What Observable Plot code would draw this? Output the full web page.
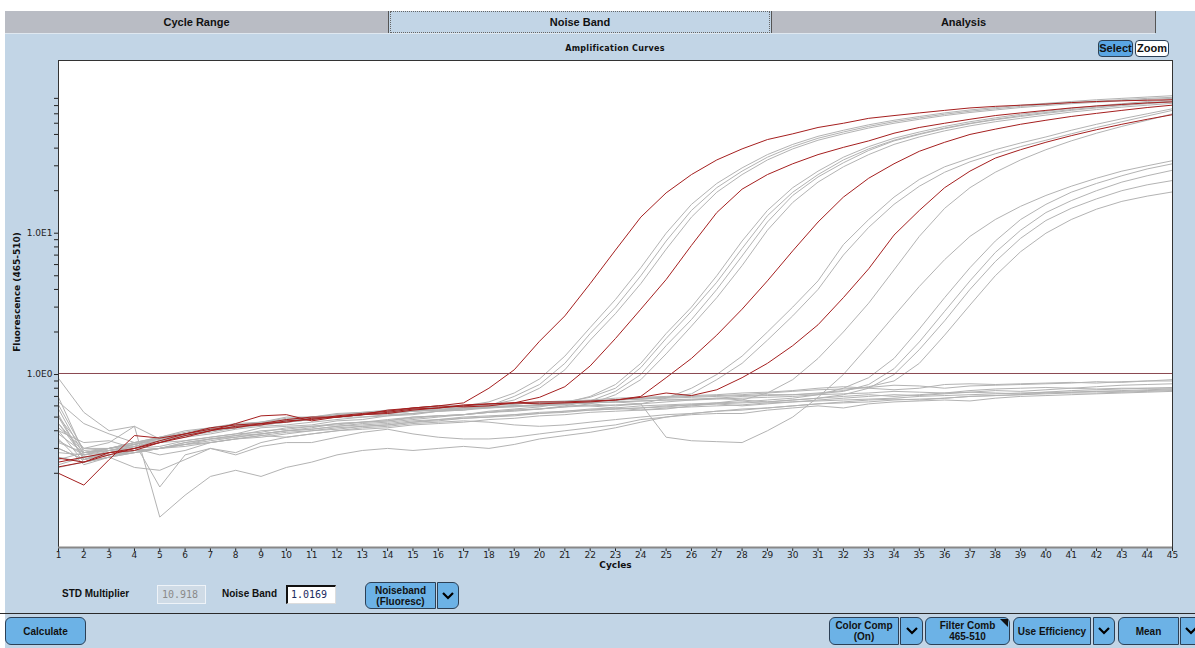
<!DOCTYPE html>
<html>
<head>
<meta charset="utf-8">
<script src="https://cdn.jsdelivr.net/npm/d3@7"></script>
<script src="https://cdn.jsdelivr.net/npm/@observablehq/plot@0.6"></script>
<style>
  html, body { margin:0; padding:0; }
  body { width:1195px; height:648px; position:relative; overflow:hidden; background:#fff; font-family:"Liberation Sans", "DejaVu Sans", sans-serif; }
  #bg { position:absolute; left:5px; top:11px; width:1190px; height:637px; background:#c2d5e6; }
  .tab { position:absolute; top:11px; height:22px; line-height:22px; text-align:center; font-weight:bold; font-size:11px; color:#111; background:#b9bcc4; box-sizing:border-box; }
  .tabsel { background:#c2d5e6; border:1px dotted #666; line-height:20px; }
  .tabline { position:absolute; top:33px; left:5px; width:1150px; height:1px; background:#dfe8f0; }
  .vsep { position:absolute; top:11px; width:1px; height:22px; background:#555; }
  #title { position:absolute; top:44px; left:515px; width:200px; text-align:center; font:bold 8px "DejaVu Sans", sans-serif; letter-spacing:0.3px; color:#111; }
  .btn { position:absolute; box-sizing:border-box; background:#6cb2e6; border:1px solid #2c4056; border-radius:6px; font-weight:bold; font-size:10px; color:#111; text-align:center; display:flex; align-items:center; justify-content:center; line-height:11px; }
  .lbl { position:absolute; font-weight:bold; font-size:10px; color:#111; }
  .inp { position:absolute; box-sizing:border-box; height:19px; font:10px "DejaVu Sans Mono", monospace; padding:3px 4px; }
  #plot { position:absolute; left:0; top:40px; }
  #hline { position:absolute; left:0; top:613px; width:1195px; height:1px; background:#2a2a2a; }
</style>
</head>
<body>
<div id="bg"></div>
<div class="tab" style="left:5px;width:383px;">Cycle Range</div>
<div class="tab tabsel" style="left:390px;width:380px;">Noise Band</div>
<div class="tab" style="left:772px;width:383px;">Analysis</div>
<div class="vsep" style="left:388px"></div>
<div class="vsep" style="left:771px"></div>
<div class="vsep" style="left:1155px"></div>
<div class="tabline"></div>
<div id="title">Amplification Curves</div>
<div class="btn" style="left:1098px;top:40px;width:35px;height:17px;border-radius:4px;background:#5aa6e4;font-size:11px;">Select</div>
<div class="btn" style="left:1135px;top:40px;width:34px;height:17px;border-radius:4px;background:#fff;font-size:11px;">Zoom</div>

<div id="plot"></div>

<div class="lbl" style="left:62px;top:588px;">STD Multiplier</div>
<div class="inp" style="left:157px;top:585px;width:49px;background:#cfdbe6;border:1px solid #eef3f8;color:#8a8a8a;">10.918</div>
<div class="lbl" style="left:222px;top:588px;">Noise Band</div>
<div class="inp" style="left:286px;top:585px;width:50px;background:#fff;border-top:2px solid #111;border-left:2px solid #111;border-right:1px solid #ddd;border-bottom:1px solid #ddd;color:#1a2a60;padding:2px 3px;">1.0169</div>
<div class="btn" style="left:365px;top:582px;width:71px;height:27px;border-radius:6px 0 0 6px;">Noiseband<br>(Fluoresc)</div>
<div class="btn" style="left:437px;top:582px;width:22px;height:27px;border-radius:0 6px 6px 0;"><svg width="14" height="10"><path d="M2 2 L7 7 L12 2" stroke="#000" stroke-width="2.2" fill="none"/></svg></div>

<div id="hline"></div>
<div class="btn" style="left:5px;top:617px;width:81px;height:28px;">Calculate</div>
<div class="btn" style="left:829px;top:617px;width:70px;height:28px;border-radius:6px 0 0 6px;">Color Comp<br>(On)</div>
<div class="btn" style="left:900px;top:617px;width:23px;height:28px;border-radius:0 6px 6px 0;"><svg width="14" height="10"><path d="M2 2 L7 7 L12 2" stroke="#000" stroke-width="2.2" fill="none"/></svg></div>
<div class="btn" style="left:925px;top:617px;width:85px;height:28px;">Filter Comb<br>465-510<svg style="position:absolute;right:1px;top:1px" width="8" height="8"><path d="M0 0 L8 0 L8 8 Z" fill="#111"/></svg></div>
<div class="btn" style="left:1013px;top:617px;width:78px;height:28px;border-radius:6px 0 0 6px;">Use Efficiency</div>
<div class="btn" style="left:1093px;top:617px;width:22px;height:28px;border-radius:0 6px 6px 0;"><svg width="14" height="10"><path d="M2 2 L7 7 L12 2" stroke="#000" stroke-width="2.2" fill="none"/></svg></div>
<div class="btn" style="left:1118px;top:617px;width:61px;height:28px;border-radius:6px 0 0 6px;">Mean</div>
<div class="btn" style="left:1180px;top:617px;width:22px;height:28px;border-radius:0 6px 6px 0;justify-content:flex-start;padding-left:3px;"><svg width="14" height="10"><path d="M2 2 L7 7 L12 2" stroke="#000" stroke-width="2.2" fill="none"/></svg></div>

<script>
// ---- data ----
const cycles = [1,2,3,4,5,6,7,8,9,10,11,12,13,14,15,16,17,18,19,20,21,22,23,24,25,26,27,28,29,30,31,32,33,34,35,36,37,38,39,40,41,42,43,44,45];
const xTicks = cycles;
const yMajorTicks = [1, 10];
const yMajorLabels = ["1.0E0", "1.0E1"];
const yMinorTicks = [0.2,0.3,0.4,0.5,0.6,0.7,0.8,0.9,2,3,4,5,6,7,8,9,20,30,40,50,60,70,80,90];
const yDomain = [0.0597, 166.8];
const noiseBand = 1.0169;

// red (highlighted) samples
const R1 = [0.256,0.24,0.28,0.29,0.33,0.36,0.4,0.43,0.44,0.47, 0.48,0.51,0.53,0.55,0.58,0.6,0.63,0.8,1.08,1.72, 2.6,4.4,7.6,13,19.3,26,33,39.5,46,50.5, 56,60,65,68,71,74,77,79,80.5,82, 84,85.5,86.5,87.3,88];
const R2 = [0.2,0.165,0.25,0.37,0.355,0.38,0.42,0.44,0.45,0.48, 0.5,0.5,0.52,0.56,0.58,0.6,0.59,0.6,0.63,0.69, 0.82,1.15,1.8,2.9,4.7,8.2,14,20.5,26,31, 36,40.5,45,51,56,60,64,68,71,74, 77,79.5,81.5,83.5,85];
const R3 = [0.222,0.24,0.27,0.3,0.33,0.37,0.4,0.45,0.51,0.52, 0.47,0.5,0.52,0.53,0.56,0.58,0.6,0.62,0.63,0.62, 0.63,0.64,0.66,0.7,0.95,1.3,1.9,2.9,4.6,7.5, 12,18,24.5,31,38,44,50,54.5,59,63, 67,70.5,74,77.5,80.6];
const R4 = [0.24,0.26,0.28,0.3,0.34,0.38,0.41,0.42,0.45,0.46, 0.49,0.5,0.52,0.54,0.57,0.58,0.61,0.62,0.63,0.64, 0.64,0.65,0.66,0.69,0.74,0.71,0.78,0.95,1.2,1.6, 2.25,3.5,5.6,9.7,14.5,21,27.5,34,39,44, 49,54,59,64,69];

// grey samples
const A1 = [0.57,0.27,0.29,0.31,0.33,0.38,0.41,0.43,0.44,0.48, 0.49,0.5,0.53,0.55,0.57,0.58,0.6,0.64,0.74,0.93, 1.35,2.15,3.4,5.7,10,16,22.5,29,36,42.5, 48.5,53.5,58.5,63,67,71,74.5,77.5,80.5,83, 85.5,88,90,92,94];
const A2 = [0.5,0.25,0.28,0.3,0.31,0.34,0.36,0.38,0.42,0.43, 0.44,0.47,0.48,0.51,0.52,0.55,0.56,0.6,0.7,0.85, 1.2,1.95,3.0,5.0,8.8,14.5,21,27.5,34.5,41, 47,52,57,61.5,65.5,69.5,73,76,79,81.5, 84,86,88,90,91.6];
const A3 = [0.61,0.29,0.3,0.33,0.36,0.4,0.42,0.45,0.46,0.5, 0.5,0.53,0.54,0.55,0.58,0.6,0.6,0.61,0.66,0.8, 1.08,1.75,2.7,4.4,7.7,13,19.5,26,33,39.5, 45.5,50.5,55.5,60,64,68,71.5,74.5,77.5,80, 82.5,84.5,86.5,88.5,90];
const B1 = [0.4,0.24,0.26,0.29,0.3,0.32,0.34,0.36,0.38,0.4, 0.41,0.43,0.45,0.46,0.48,0.5,0.52,0.55,0.57,0.59, 0.63,0.7,0.85,1.2,1.95,3.0,5.0,8.8,14.5,21, 27.5,34.5,41,47,52,57,61.5,65.5,69.5,73, 76.5,79.5,82.5,85.5,88];
const B2 = [0.45,0.28,0.29,0.32,0.36,0.38,0.41,0.44,0.45,0.47, 0.5,0.51,0.52,0.55,0.57,0.58,0.6,0.6,0.62,0.63, 0.64,0.69,0.8,1.12,1.8,2.8,4.5,7.8,13.3,19.5, 26,33,39.5,45.5,50.5,55.5,60,64,68,71.5, 75,78,81,84,86];
const B3 = [0.3,0.25,0.27,0.29,0.3,0.33,0.35,0.37,0.4,0.41, 0.43,0.44,0.46,0.47,0.49,0.51,0.52,0.54,0.56,0.57, 0.6,0.65,0.76,1.0,1.6,2.45,4.0,6.9,12,18.5, 25,31.5,38.5,45,50,55,59.5,63.5,67,70.5, 74,77,80,82.5,85];
const B4 = [0.35,0.23,0.26,0.28,0.3,0.32,0.35,0.36,0.38,0.4, 0.42,0.45,0.46,0.47,0.5,0.51,0.52,0.54,0.55,0.57, 0.59,0.62,0.72,0.92,1.4,2.2,3.5,5.9,10.5,16.5, 23,29.5,36,42.5,48,53,57.5,61.5,65,68.5, 72,75,78,80.5,83];
const C1 = [0.28,0.27,0.28,0.3,0.33,0.34,0.36,0.38,0.39,0.42, 0.43,0.45,0.46,0.48,0.5,0.51,0.52,0.54,0.56,0.57, 0.59,0.6,0.61,0.62,0.68,0.8,1.0,1.35,2.0,3.0, 4.6,8.3,12.5,18,24,29.5,34,39,43.5,48, 53.5,59,64.5,70,76];
const C2 = [0.33,0.28,0.3,0.33,0.35,0.38,0.41,0.42,0.45,0.47, 0.49,0.5,0.53,0.55,0.56,0.58,0.6,0.61,0.62,0.63, 0.64,0.65,0.66,0.67,0.69,0.73,0.92,1.2,1.75,2.6, 4.0,7.0,11,16,21.5,27,32,36.5,41,45.5, 50.5,56,61.5,67.5,74];
const D1 = [0.26,0.24,0.26,0.28,0.3,0.32,0.33,0.35,0.36,0.38, 0.4,0.42,0.43,0.44,0.46,0.48,0.49,0.5,0.52,0.53, 0.55,0.56,0.57,0.58,0.6,0.61,0.63,0.66,0.74,0.92, 1.3,2.0,3.2,5.5,9.5,15,21,27,33,39, 45,51,57,63,70];
const D2 = [0.42,0.3,0.3,0.32,0.34,0.37,0.4,0.42,0.44,0.46, 0.48,0.5,0.52,0.53,0.55,0.57,0.58,0.59,0.6,0.61, 0.62,0.63,0.64,0.62,0.36,0.34,0.335,0.33,0.4,0.5, 0.69,1.0,1.6,2.6,4.2,6.5,9.5,12.5,15.5,18.5, 21.5,24.5,27.5,30,32.6];
const E2 = [0.23,0.26,0.27,0.29,0.3,0.33,0.35,0.37,0.38,0.4, 0.41,0.43,0.44,0.45,0.47,0.48,0.5,0.51,0.52,0.54, 0.55,0.57,0.58,0.6,0.61,0.62,0.63,0.64,0.66,0.68, 0.72,0.8,0.95,1.3,2.1,3.5,5.7,8.8,12.5,16, 19.5,22.5,25.5,28.5,31];
const E3 = [0.25,0.28,0.3,0.33,0.36,0.39,0.42,0.44,0.46,0.49, 0.5,0.52,0.54,0.56,0.57,0.59,0.6,0.61,0.62,0.63, 0.64,0.65,0.66,0.67,0.68,0.69,0.7,0.71,0.72,0.72, 0.73,0.76,0.85,1.1,1.7,2.8,4.6,7.3,10.5,14, 17,20,23,25.5,27.9];
const E4 = [0.3,0.25,0.27,0.28,0.3,0.31,0.33,0.35,0.37,0.39, 0.4,0.41,0.43,0.44,0.46,0.47,0.49,0.5,0.51,0.53, 0.54,0.56,0.57,0.58,0.59,0.61,0.62,0.63,0.64,0.66, 0.68,0.72,0.8,1.0,1.5,2.4,4.0,6.3,9.2,12.3, 15,17.5,20,22,23.6];
const E5 = [0.38,0.28,0.3,0.32,0.35,0.38,0.41,0.43,0.45,0.47, 0.49,0.5,0.52,0.53,0.55,0.56,0.58,0.59,0.6,0.61, 0.62,0.63,0.64,0.65,0.66,0.67,0.68,0.7,0.71,0.72, 0.74,0.77,0.82,0.9,1.2,1.9,3.1,5.0,7.4,10, 12.5,14.8,16.8,18.3,19.6];
const N1 = [0.94,0.54,0.4,0.43,0.35,0.38,0.4,0.43,0.44,0.46, 0.48,0.5,0.5,0.52,0.53,0.55,0.57,0.58,0.6,0.6, 0.62,0.63,0.64,0.65,0.66,0.66,0.67,0.68,0.69,0.7, 0.72,0.73,0.74,0.76,0.75,0.74,0.77,0.79,0.8,0.81, 0.8,0.82,0.84,0.85,0.86];
const N2 = [0.5,0.3,0.33,0.43,0.098,0.14,0.19,0.21,0.19,0.22, 0.24,0.27,0.29,0.3,0.29,0.3,0.31,0.3,0.32,0.35, 0.37,0.39,0.42,0.46,0.5,0.53,0.55,0.57,0.58,0.6, 0.62,0.63,0.64,0.66,0.67,0.68,0.7,0.71,0.72,0.73, 0.74,0.74,0.75,0.76,0.77];
const N3 = [0.64,0.45,0.38,0.33,0.16,0.27,0.3,0.28,0.33,0.36, 0.38,0.4,0.42,0.43,0.45,0.46,0.47,0.46,0.44,0.43, 0.44,0.46,0.48,0.5,0.52,0.53,0.55,0.56,0.58,0.6, 0.62,0.64,0.66,0.67,0.66,0.68,0.7,0.71,0.72,0.74, 0.75,0.76,0.76,0.77,0.78];
const N4 = [0.69,0.28,0.29,0.3,0.33,0.37,0.4,0.42,0.45,0.47, 0.49,0.5,0.52,0.54,0.56,0.58,0.59,0.61,0.62,0.64, 0.65,0.66,0.68,0.69,0.7,0.71,0.72,0.74,0.75,0.77, 0.8,0.82,0.8,0.78,0.8,0.85,0.86,0.85,0.86,0.87, 0.88,0.87,0.89,0.9,0.9];
const N5 = [0.45,0.26,0.28,0.31,0.34,0.36,0.38,0.41,0.43,0.44, 0.46,0.48,0.5,0.51,0.53,0.55,0.56,0.58,0.59,0.61, 0.62,0.64,0.66,0.68,0.69,0.7,0.71,0.72,0.74,0.76, 0.78,0.79,0.81,0.84,0.83,0.8,0.83,0.84,0.85,0.86, 0.87,0.89,0.88,0.9,0.92];
const N6 = [0.22,0.24,0.26,0.22,0.21,0.25,0.3,0.27,0.31,0.33, 0.33,0.36,0.39,0.41,0.38,0.36,0.35,0.35,0.36,0.38, 0.4,0.42,0.44,0.48,0.5,0.52,0.53,0.53,0.56,0.58, 0.6,0.58,0.62,0.64,0.65,0.66,0.65,0.68,0.7,0.71, 0.72,0.73,0.74,0.75,0.76];
const N7 = [0.34,0.27,0.3,0.32,0.35,0.38,0.41,0.43,0.46,0.48, 0.5,0.52,0.53,0.55,0.57,0.58,0.6,0.61,0.62,0.63, 0.63,0.62,0.6,0.62,0.64,0.66,0.68,0.66,0.64,0.66, 0.68,0.7,0.72,0.7,0.72,0.74,0.75,0.77,0.76,0.78, 0.8,0.79,0.8,0.8,0.81];
const N8 = [0.52,0.25,0.29,0.31,0.34,0.37,0.39,0.42,0.44,0.46, 0.48,0.5,0.52,0.53,0.55,0.56,0.57,0.59,0.6,0.6, 0.61,0.6,0.58,0.56,0.57,0.6,0.62,0.6,0.62,0.64, 0.66,0.68,0.7,0.72,0.71,0.73,0.75,0.74,0.73,0.75, 0.77,0.78,0.79,0.8,0.8];
const N9 = [0.4,0.33,0.34,0.3,0.27,0.29,0.33,0.35,0.37,0.36, 0.38,0.4,0.41,0.42,0.44,0.45,0.46,0.48,0.49,0.51, 0.52,0.54,0.55,0.56,0.58,0.59,0.6,0.61,0.63,0.64, 0.65,0.66,0.67,0.68,0.7,0.71,0.72,0.73,0.74,0.75, 0.75,0.76,0.77,0.78,0.79];

const redSeries = [["R1",R1],["R2",R2],["R3",R3],["R4",R4]];
const greySeries = [["N1",N1],["N2",N2],["N3",N3],["N4",N4],["N5",N5],["N6",N6],["N7",N7],["N8",N8],["N9",N9],
  ["A1",A1],["A2",A2],["A3",A3],["B1",B1],["B2",B2],["B3",B3],["B4",B4],["C1",C1],["C2",C2],["D1",D1],["D2",D2],
  ["E2",E2],["E3",E3],["E4",E4],["E5",E5]];

function tidy(series) {
  const out = [];
  for (const [id, vals] of series) vals.forEach((v, i) => out.push({id, cycle: cycles[i], value: v}));
  return out;
}
const greyData = tidy(greySeries);
const redData = tidy(redSeries);

const chart = Plot.plot({
  width: 1195, height: 540,
  marginLeft: 58, marginRight: 23, marginTop: 20, marginBottom: 33,
  x: {domain: [1, 45]},
  y: {type: "log", domain: yDomain},
  style: {background: "transparent", fontFamily: "DejaVu Sans, sans-serif", fontSize: "9px", color: "#222"},
  marks: [
    Plot.frame({fill: "white", stroke: null}),
    Plot.axisX({ticks: xTicks, tickSize: 4, tickPadding: 0, tickFormat: d => String(d), label: null}),
    Plot.axisY({ticks: yMajorTicks, tickSize: 4, tickPadding: 2, tickFormat: d => yMajorLabels[yMajorTicks.indexOf(d)], label: null}),
    Plot.axisY({ticks: yMinorTicks, tickSize: 4, tickFormat: () => "", label: null}),
    Plot.line(greyData, {x: "cycle", y: "value", z: "id", stroke: "#b3b3b3", strokeWidth: 1}),
    Plot.line(redData, {x: "cycle", y: "value", z: "id", stroke: "#a51f1f", strokeWidth: 1}),
    Plot.ruleY([noiseBand], {stroke: "#8a4850", strokeWidth: 1}),
    Plot.frame({stroke: "#333"}),
    Plot.ruleY([yDomain[0]], {stroke: "#888", strokeWidth: 2}),
    Plot.text(["Cycles"], {frameAnchor: "bottom", dy: 20, fontWeight: "bold", fontSize: 9, fill: "#111"}),
    Plot.text(["Fluorescence (465-510)"], {frameAnchor: "left", textAnchor: "middle", dx: -41, dy: -12, rotate: -90, fontWeight: "bold", fontSize: 9, fill: "#111"})
  ]
});
document.getElementById("plot").appendChild(chart);
</script>
</body>
</html>
